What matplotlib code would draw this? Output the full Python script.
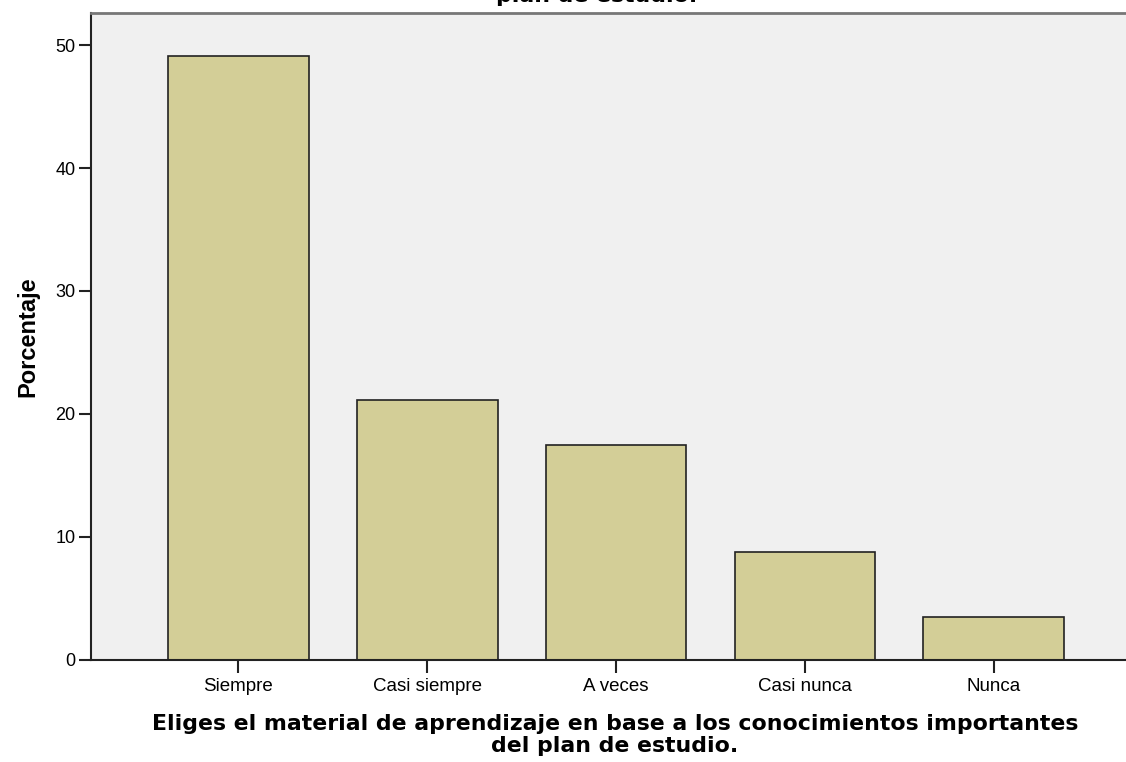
import matplotlib.pyplot as plt

categories = ["Siempre", "Casi siempre", "A veces", "Casi nunca", "Nunca"]
porcentaje = [49.1, 21.1, 17.5, 8.8, 3.5]
yticks = [0, 10, 20, 30, 40, 50]

fig = plt.figure(figsize=(11.26, 7.62), dpi=100)
ax = fig.add_axes([0.0808, 0.1339, 0.9192, 0.8490])
ax.set_facecolor('#F0F0F0')

x = range(len(categories))
ax.bar(x, porcentaje, width=0.745, color='#D3CE97', edgecolor='#222222', linewidth=1.2)

ax.set_xlim(-0.78, 4.70)
ax.set_ylim(0, 52.6)
ax.set_yticks(yticks)
ax.set_xticks(list(x))
ax.set_xticklabels(categories, fontfamily='Liberation Sans', fontsize=13.5)
for lbl in ax.get_yticklabels():
    lbl.set_fontfamily('Liberation Sans')
    lbl.set_fontsize(13)
ax.tick_params(axis='y', length=9, width=1.5, color='#222222', pad=2)
ax.tick_params(axis='x', length=9, width=1.5, color='#222222', pad=4)

ax.spines['right'].set_visible(False)
for s in ['left', 'bottom']:
    ax.spines[s].set_linewidth(1.5)
    ax.spines[s].set_color('#222222')
ax.spines['top'].set_linewidth(2)
ax.spines['top'].set_color('#777777')

ax.set_ylabel("Porcentaje", fontfamily='Liberation Sans', fontweight='bold', fontsize=17, labelpad=12)
ax.set_xlabel("Eliges el material de aprendizaje en base a los conocimientos importantes\ndel plan de estudio.",
              fontfamily='DejaVu Sans', fontweight='bold', fontsize=15.8, linespacing=1.12, labelpad=14)
ax.xaxis.label.set_x(0.506)

# title is cut off at the top of the image, only its last line shows
fig.text(0.53, 1.0 - 2 / 762, "plan de estudio.", ha='center', va='baseline',
         fontfamily='DejaVu Sans', fontweight='bold', fontsize=15.8)

fig.savefig("out.png", dpi=100)
